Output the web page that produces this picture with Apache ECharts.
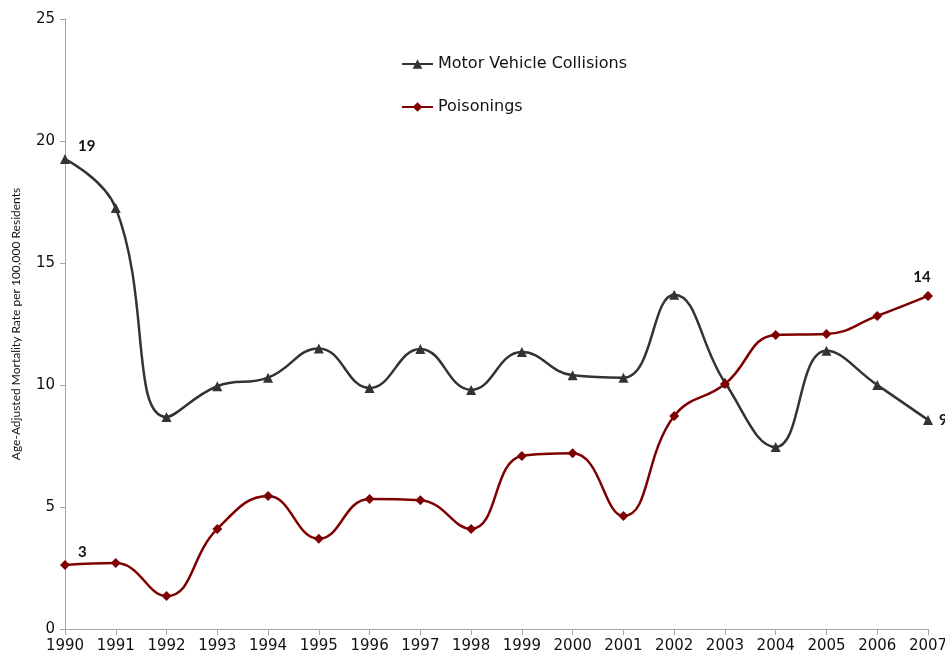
<!DOCTYPE html>
<html>
<head>
<meta charset="utf-8">
<script src="https://cdn.jsdelivr.net/npm/echarts@6/dist/echarts.min.js"></script>
<style>
html, body { margin: 0; padding: 0; background: #fff; }
#main { width: 945px; height: 663px; }
</style>
</head>
<body>
<div id="main"></div>
<script>
const years = ['1990', '1991', '1992', '1993', '1994', '1995', '1996', '1997', '1998',
    '1999', '2000', '2001', '2002', '2003', '2004', '2005', '2006', '2007'];
const motorVehicle = [19.26, 17.25, 8.69, 9.95, 10.3, 11.5, 9.88, 11.48, 9.8,
    11.35, 10.4, 10.3, 13.7, 10.1, 7.46, 11.4, 10.0, 8.57];
const poisonings = [2.62, 2.7, 1.35, 4.1, 5.45, 3.7, 5.33, 5.28, 4.1,
    7.09, 7.2, 4.63, 8.73, 10.04, 12.05, 12.09, 12.83, 13.65];
// labels shown only at the ends of the lines
const motorLabels = { 0: '19', 17: '9' };
const poisonLabels = { 0: '3', 17: '14' };

const font = '"DejaVu Sans", sans-serif';
const nameFont = 'Lato, "DejaVu Sans", sans-serif';

const chart = echarts.init(document.getElementById('main'));

const withLabels = (values, labels, lastPos, lastOffset) => values.map((v, i) => {
    if (labels[i] === undefined) return v;
    return {
        value: v,
        label: {
            show: true,
            formatter: labels[i],
            position: i === 0 ? 'right' : lastPos,
            distance: 6,
            fontWeight: 'bold',
            fontSize: 15,
            color: '#111',
            fontFamily: nameFont,
            offset: i === 0 ? [2, -13] : lastOffset
        }
    };
});

const option = {
    animation: false,
    grid: { left: 65, right: 17, top: 19, bottom: 34, containLabel: false, outerBoundsMode: 'none' },
    legend: {
        orient: 'vertical',
        left: 396,
        top: 51,
        itemGap: 27,
        itemWidth: 31,
        itemHeight: 12,
        textStyle: { fontSize: 16, color: '#111', fontFamily: font },
        data: ['Motor Vehicle Collisions', 'Poisonings']
    },
    xAxis: {
        type: 'category',
        data: years,
        boundaryGap: false,
        axisLine: { lineStyle: { color: '#a6a6a6' } },
        axisTick: { show: true, length: 6, alignWithLabel: true, lineStyle: { color: '#a6a6a6' } },
        axisLabel: { color: '#111', fontSize: 15, fontFamily: font, margin: 10, interval: 0, hideOverlap: false },
        splitLine: { show: false }
    },
    yAxis: {
        type: 'value',
        min: 0,
        max: 25,
        interval: 5,
        name: 'Age-Adjusted Mortality Rate per 100,000 Residents',
        nameLocation: 'middle',
        nameGap: 43,
        nameTextStyle: { fontSize: 12, color: '#111', fontFamily: nameFont },
        axisLine: { show: true, lineStyle: { color: '#a6a6a6' } },
        axisTick: { show: true, length: 5, lineStyle: { color: '#a6a6a6' } },
        axisLabel: { color: '#111', fontSize: 15, fontFamily: font, margin: 10 },
        splitLine: { show: false }
    },
    series: [
        {
            name: 'Motor Vehicle Collisions',
            type: 'line',
            smooth: 0.45,
            data: withLabels(motorVehicle, motorLabels, 'right', [0, 0]),
            symbol: 'triangle',
            symbolSize: 10,
            itemStyle: { color: '#333333' },
            lineStyle: { color: '#333333', width: 2.5 }
        },
        {
            name: 'Poisonings',
            type: 'line',
            smooth: 0.45,
            data: withLabels(poisonings, poisonLabels, 'top', [-6, 0]),
            symbol: 'diamond',
            symbolSize: 10,
            itemStyle: { color: '#7f0000' },
            lineStyle: { color: '#7f0000', width: 2.5 }
        }
    ]
};

chart.setOption(option);
</script>
</body>
</html>
